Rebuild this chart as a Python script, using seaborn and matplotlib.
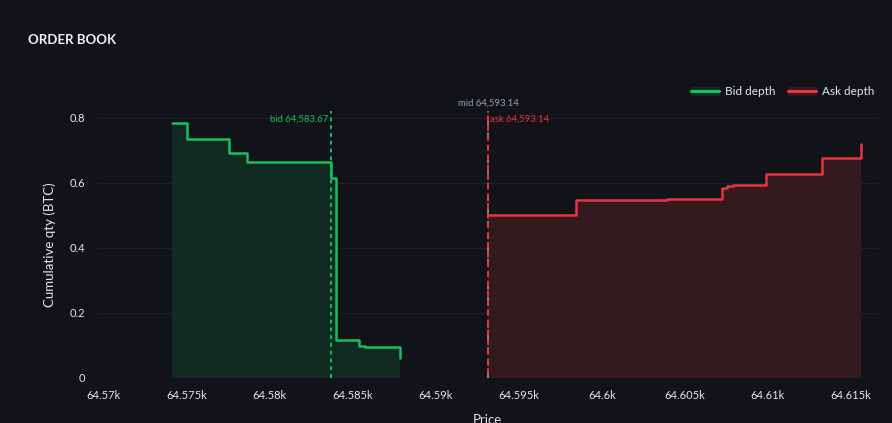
import numpy as np
import pandas as pd
import seaborn as sns
import matplotlib.pyplot as plt
from matplotlib.lines import Line2D
from matplotlib.patches import Patch
from matplotlib.ticker import FuncFormatter, MultipleLocator

# values
bid_price = [64574.10, 64575.02, 64577.53, 64578.63, 64583.67, 64583.98, 64585.36, 64585.72, 64587.83]
bid_qty = [0.782, 0.734, 0.692, 0.662, 0.614, 0.115, 0.098, 0.094, 0.061]
ask_price = [64593.14, 64598.43, 64603.93, 64607.21, 64607.55, 64607.91, 64609.86, 64613.27, 64615.60]
ask_qty = [0.501, 0.546, 0.548, 0.582, 0.588, 0.592, 0.626, 0.674, 0.719]
best_bid = 64583.67
best_ask = 64593.14
mid = 64593.14

bids = pd.DataFrame({'price': bid_price, 'qty': bid_qty})
asks = pd.DataFrame({'price': ask_price, 'qty': ask_qty})

BG = '#111318'
GRID = '#1e2027'
GREEN = '#16c05c'
RED = '#e8353f'
GREEN_FILL = '#112b22'
RED_FILL = '#341a1f'
TXT = '#e6e6e6'

sns.set_theme(style='dark')
plt.rcParams['font.family'] = ['Lato', 'DejaVu Sans']

fig = plt.figure(figsize=(8.92, 4.23), dpi=100, facecolor=BG)
ax = fig.add_axes([0.1084, 0.1071, 0.8770, 0.6305])
ax.set_facecolor(BG)

ax.fill_between(bids['price'], bids['qty'], step='post', color=GREEN_FILL, lw=0, zorder=1)
ax.fill_between(asks['price'], asks['qty'], step='post', color=RED_FILL, lw=0, zorder=1)
sns.lineplot(data=bids, x='price', y='qty', ax=ax, color=GREEN, lw=1.8,
             drawstyle='steps-post', zorder=3)
sns.lineplot(data=asks, x='price', y='qty', ax=ax, color=RED, lw=1.8,
             drawstyle='steps-post', zorder=3)

# reference lines
ax.axvline(best_bid, color=GREEN, lw=1.4, ls=(0, (2, 2)), zorder=4)
ax.axvline(mid, color='#8a8f99', lw=1.3, ls=(0, (3, 4)), zorder=4)
ax.axvline(best_ask, color=RED, lw=1.4, ls=(3, (3, 2)), zorder=5)

ax.text(best_bid - 0.12, 0.795, f'bid {best_bid:,.2f}', color=GREEN, fontsize=6.8,
        ha='right', va='center')
ax.text(best_ask + 0.12, 0.795, f'ask {best_ask:,.2f}', color=RED, fontsize=6.8,
        ha='left', va='center')
ax.text(mid, 0.845, f'mid {mid:,.2f}', color='#9aa0aa', fontsize=6.8,
        ha='center', va='center', clip_on=False)

ax.set_xlim(64569.58, 64616.69)
ax.set_ylim(0, 0.82)
ax.xaxis.set_major_locator(MultipleLocator(5))
ax.yaxis.set_major_locator(MultipleLocator(0.2))
ax.xaxis.set_major_formatter(FuncFormatter(lambda v, p: f'{v / 1000:g}k'))
ax.yaxis.set_major_formatter(FuncFormatter(lambda v, p: f'{v:g}'))
ax.tick_params(colors=TXT, labelsize=8, length=0)
ax.tick_params(axis='x', pad=9)
ax.tick_params(axis='y', pad=8)
ax.grid(axis='y', color=GRID, lw=1)
ax.grid(axis='x', visible=False)
for s in ax.spines.values():
    s.set_visible(False)

ax.set_xlabel('Price', color=TXT, fontsize=9.5, labelpad=9)
ax.set_ylabel('Cumulative qty (BTC)', color=TXT, fontsize=9.5, labelpad=10)

fig.text(0.031, 0.905, 'ORDER BOOK', color='#f2f2f2', fontsize=9.5, fontweight='bold',
         ha='left', va='center')

handles = [(Patch(color=GREEN_FILL), Line2D([], [], color=GREEN, lw=2.2)),
           (Patch(color=RED_FILL), Line2D([], [], color=RED, lw=2.2))]
leg = fig.legend(handles, ['Bid depth', 'Ask depth'], loc='center right',
                 bbox_to_anchor=(0.992, 0.783), ncol=2, frameon=False, fontsize=8.5,
                 handlelength=2.4, columnspacing=1.0, handletextpad=0.5)
for t in leg.get_texts():
    t.set_color(TXT)

fig.savefig('out.png', dpi=100, facecolor=BG)
